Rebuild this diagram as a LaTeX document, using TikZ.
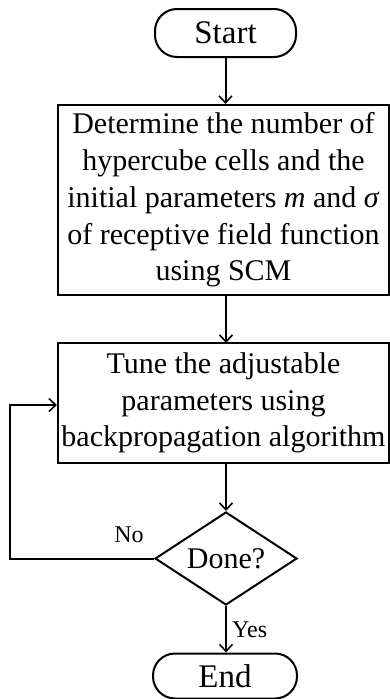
\documentclass[tikz,border=0pt]{standalone}
\usepackage{fontspec}
\setmainfont{Liberation Serif}
\usetikzlibrary{shapes.geometric,arrows.meta}
\begin{document}
\begin{tikzpicture}[x=1pt,y=-1pt,
  every node/.style={font=\fontsize{30}{36.7}\selectfont},
  terminal/.style={draw,line width=2pt,rectangle,rounded corners=22pt,inner sep=0pt,font=\fontsize{33}{38}\selectfont},
  procbox/.style={draw,line width=2pt,rectangle,align=center,inner sep=0pt},
  decision/.style={draw,line width=2pt,diamond,aspect=1.53,inner sep=0pt,minimum width=142pt,minimum height=93pt},
  conn/.style={line width=2pt,-{Straight Barb[length=7pt,width=13pt,line width=1.6pt]}},
  lbl/.style={font=\fontsize{24}{28}\selectfont,inner sep=0pt}]
\useasboundingbox (0,0) rectangle (390,699);
\node[terminal,minimum width=141pt,minimum height=48pt] (start) at (225.5,33) {Start};
\node[procbox,minimum width=331pt,minimum height=190pt] (det) at (223.5,200)
  {Determine the number of\\hypercube cells and the\\initial parameters \textit{m} and \textit{σ}\\of receptive field function\\using SCM};
\node[procbox,minimum width=331pt,minimum height=120pt] (tune) at (223.5,403)
  {Tune the adjustable\\parameters using\\backpropagation algorithm};
\node[decision] (done) at (226,558.5) {Done?};
\node[terminal,minimum width=144pt,minimum height=45pt] (end) at (225,676) {End};
\coordinate (lc) at (10,558.5);
\coordinate (lt) at (10,405);
\draw[conn] (start.south) -- (start.south |- det.north);
\draw[conn] (det.south -| 226,0) -- (226,343);
\draw[conn] (226,463) -- (done.north);
\draw[conn] (done.south) -- (done.south |- end.north);
\draw[conn] (done.west) -- (lc) -- (lt) -- (lt -| tune.west);
\node[lbl] (no) at (129,535) {No};
\node[lbl,anchor=west] (yes) at (232,630) {Yes};
\end{tikzpicture}
\end{document}
